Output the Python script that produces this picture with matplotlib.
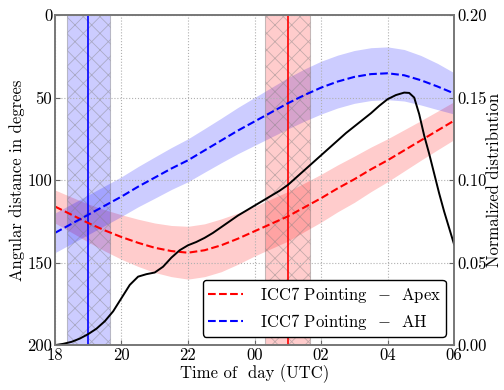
import numpy as np
import matplotlib
matplotlib.use("Agg")
import matplotlib.pyplot as plt

plt.rcParams['font.family'] = ['cmr10', 'DejaVu Serif']
plt.rcParams['mathtext.fontset'] = 'cm'
plt.rcParams['axes.unicode_minus'] = False
plt.rcParams['hatch.linewidth'] = 0.6

# pointing curves, half-hourly from 18 UTC to 06 UTC (hours > 24 = next day)
hours = [18, 18.5, 19, 19.5, 20, 20.5, 21, 21.5, 22, 22.5, 23, 23.5, 24,
         24.5, 25, 25.5, 26, 26.5, 27, 27.5, 28, 28.5, 29, 29.5, 30]
apex_center = [116, 121, 126, 130.5, 134.5, 138, 141, 143, 144, 142.5, 139.5, 135.5, 131,
               126.5, 122, 116.5, 111, 105, 99.5, 93.5, 88, 82, 76, 70, 64]
apex_half = [10, 10.7, 11.5, 12.5, 13.5, 14.3, 15, 15.5, 16, 16, 16, 15.5, 15,
             15, 15, 14.7, 14.5, 14.2, 14, 13.5, 13, 12.5, 12, 11.7, 11.5]
ah_center = [132, 126.5, 121, 115.5, 110, 104, 98.5, 93, 88, 82, 76, 70, 64.5,
             59, 53.5, 48.5, 44, 40.3, 37.5, 35.8, 35.3, 36.5, 39.5, 43.3, 47.5]
ah_half = [12, 12, 12, 12, 12, 12.2, 12.5, 12.7, 13, 13.2, 13.5, 14, 14.5,
           15, 15.5, 15.8, 16, 16, 16, 16, 16, 15.6, 15, 14, 12.5]

# normalized distribution (right axis)
dist_hours = [18.0, 18.25, 18.5, 18.75, 19.0, 19.25, 19.5, 19.75, 20.0, 20.25,
              20.5, 20.75, 21.0, 21.25, 21.5, 21.75, 22.0, 22.25, 22.5, 22.75,
              23.0, 23.25, 23.5, 23.75, 24.0, 24.25, 24.5, 24.75, 25.0, 25.25,
              25.5, 25.75, 26.0, 26.25, 26.5, 26.75, 27.0, 27.25, 27.5, 27.75,
              28.0, 28.25, 28.5, 28.65, 28.8, 28.95, 29.1, 29.25, 29.4, 29.55,
              29.7, 29.85, 30.0]
dist_vals = [0.0, 0.0008, 0.002, 0.004, 0.0067, 0.010, 0.0145, 0.0205, 0.0285, 0.0365,
             0.0415, 0.043, 0.044, 0.0475, 0.053, 0.0575, 0.0605, 0.0625, 0.065, 0.068,
             0.0715, 0.075, 0.0785, 0.0815, 0.0845, 0.0875, 0.0905, 0.0935, 0.097, 0.1015,
             0.106, 0.1105, 0.115, 0.1195, 0.124, 0.1285, 0.1325, 0.1365, 0.1405, 0.145,
             0.149, 0.1515, 0.153, 0.1528, 0.150, 0.140, 0.127, 0.116, 0.104, 0.092,
             0.081, 0.071, 0.061]

# observing windows
ah_time, ah_win = 19.0, 0.65
apex_time, apex_win = 25.0, 0.67

xticks = [18, 20, 22, 24, 26, 28, 30]
xticklabels = ['18', '20', '22', '00', '02', '04', '06']
yticks_left = [0, 50, 100, 150, 200]
yticks_right = [0.0, 0.05, 0.10, 0.15, 0.20]
yticklabels_right = ['0.00', '0.05', '0.10', '0.15', '0.20']

h = np.array(hours)
ac, ahw = np.array(apex_center), np.array(apex_half)
bc, bhw = np.array(ah_center), np.array(ah_half)

fig = plt.figure(figsize=(5.04, 3.9), dpi=100)
ax = fig.add_axes([0.109, 0.115, 0.792, 0.8465])

ax.fill_between(h, ac - ahw, ac + ahw, color='red', alpha=0.2, lw=0)
ax.fill_between(h, bc - bhw, bc + bhw, color='blue', alpha=0.2, lw=0)

ax.axvspan(ah_time - ah_win, ah_time + ah_win, facecolor=(0, 0, 1, 0.2),
           edgecolor=(0.5, 0.5, 0.5, 0.45), hatch='xx', lw=0.8)
ax.axvspan(apex_time - apex_win, apex_time + apex_win, facecolor=(1, 0, 0, 0.2),
           edgecolor=(0.5, 0.5, 0.5, 0.45), hatch='xx', lw=0.8)
ax.axvline(ah_time, color='blue', lw=1.2)
ax.axvline(apex_time, color='red', lw=1.2)

ax.plot(h, ac, 'r--', lw=1.5, label=r'ICC7 Pointing  $-$  Apex')
ax.plot(h, bc, 'b--', lw=1.5, label=r'ICC7 Pointing  $-$  AH')

ax.set_xlim(18, 30)
ax.set_ylim(200, 0)
ax.set_xticks(xticks)
ax.set_xticklabels(xticklabels)
ax.set_yticks(yticks_left)
ax.grid(True, color='#b0b0b0', ls=':', lw=0.8)
ax.set_xlabel('Time of  day (UTC)', fontsize=12, labelpad=1)
ax.set_ylabel('Angular distance in degrees', fontsize=12, labelpad=2)
ax.tick_params(direction='in', labelsize=12, color='#666666', pad=2)

leg = ax.legend(loc='lower right', fontsize=12, handlelength=2.1,
                handletextpad=1.0, labelspacing=0.4, borderpad=0.3,
                fancybox=True, framealpha=1.0)
leg.get_frame().set_edgecolor('black')

ax2 = ax.twinx()
ax2.plot(dist_hours, dist_vals, color='black', lw=1.4)
ax2.set_ylim(0, 0.2)
ax2.set_yticks(yticks_right)
ax2.set_yticklabels(yticklabels_right)
ax2.set_ylabel('Normalized distribution', fontsize=12, labelpad=0)
ax2.tick_params(direction='in', labelsize=12, color='#666666', pad=2)

for a in (ax, ax2):
    for s in a.spines.values():
        s.set_color('#777777')
        s.set_linewidth(1.2)

fig.savefig('out.png', dpi=100)
